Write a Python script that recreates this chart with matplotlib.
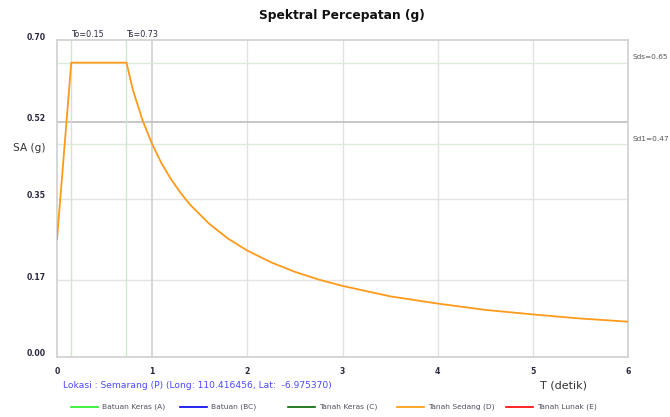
import matplotlib
matplotlib.use("Agg")
import matplotlib.pyplot as plt
from matplotlib.lines import Line2D
from matplotlib.transforms import ScaledTranslation

# ---- data ----
T_values = [0.0, 0.15, 0.73, 0.8, 0.9, 1.0, 1.1, 1.2, 1.3, 1.4, 1.6, 1.8, 2.0,
            2.25, 2.5, 2.75, 3.0, 3.5, 4.0, 4.5, 5.0, 5.5, 6.0]
SA_values = [0.26, 0.65, 0.65, 0.588, 0.522, 0.47, 0.427, 0.392, 0.362, 0.336,
             0.294, 0.261, 0.235, 0.209, 0.188, 0.171, 0.157, 0.134, 0.118,
             0.104, 0.094, 0.085, 0.078]
x_ticks = [0, 1, 2, 3, 4, 5, 6]
y_ticks = [0.00, 0.17, 0.35, 0.52, 0.70]
y_tick_labels = ["0.00", "0.17", "0.35", "0.52", "0.70"]
T0, Ts = 0.15, 0.73
Sds, Sd1 = 0.65, 0.47
legend_labels = ["Batuan Keras (A)", "Batuan (BC)", "Tanah Keras (C)",
                 "Tanah Sedang (D)", "Tanah Lunak (E)"]
legend_colors = ["#22ee22", "#0000ee", "#006400", "#ff9900", "#ff0000"]

W, H = 670, 417
fig = plt.figure(figsize=(W / 100, H / 100), dpi=100)
L, R, B, Tp = 57, 628, 357, 40
ax = fig.add_axes([L / W, 1 - B / H, (R - L) / W, (B - Tp) / H])

ax.set_xlim(0, 6)
ax.set_ylim(0, 0.70)

# grid lines
for y in [0.17, 0.35]:
    ax.axhline(y, color="#e4e4e4", lw=1, zorder=1)
for x in [2, 3, 4, 5]:
    ax.axvline(x, color="#e2e2e2", lw=1, zorder=1)
ax.axvline(1, color="#cfcfcf", lw=1.2, zorder=1)
ax.axhline(0.52, color="#bdbdbd", lw=1.2, zorder=1)
ax.axhline(Sds, color="#dcebdc", lw=1, zorder=1)
ax.axhline(Sd1, color="#dcebdc", lw=1, zorder=1)
ax.axvline(T0, color="#cfe6cf", lw=1, zorder=1)
ax.axvline(Ts, color="#cfe6cf", lw=1, zorder=1)

ax.plot(T_values, SA_values, color="#ff9a1a", lw=1.3, zorder=3)

for s in ax.spines.values():
    s.set_color("#d0d0d0")
    s.set_linewidth(1.2)

tick_color = "#2a2a40"
ax.set_xticks(x_ticks)
ax.set_xticklabels([str(v) for v in x_ticks], fontsize=5.6, color=tick_color,
                   fontweight="bold")
ax.set_yticks(y_ticks)
ax.set_yticklabels(y_tick_labels, fontsize=5.6, color=tick_color,
                   fontweight="bold")
ax.tick_params(length=0, pad=8)
ax.tick_params(axis="y", pad=8)
ax.tick_params(axis="x", pad=7)
off = ScaledTranslation(0, 4 / 100, fig.dpi_scale_trans)
for lab in ax.get_yticklabels():
    lab.set_transform(lab.get_transform() + off)

# annotations
ax.text(T0, 0.702, "To=0.15", fontsize=5.8, color=tick_color, ha="left",
        va="bottom", transform=ax.transData)
ax.text(Ts, 0.702, "Ts=0.73", fontsize=5.8, color=tick_color, ha="left",
        va="bottom", transform=ax.transData)
ax.text(6.05, Sds + 0.005, "Sds=0.65", fontsize=5.3, color="#555555",
        ha="left", va="bottom", clip_on=False)
ax.text(6.05, Sd1 + 0.005, "Sd1=0.47", fontsize=5.3, color="#555555",
        ha="left", va="bottom", clip_on=False)

fig.text(342 / W, 1 - 15 / H, "Spektral Percepatan (g)", fontsize=8.8,
         fontweight="bold", ha="center", va="center", color="#111111")
fig.text(13 / W, 1 - 148 / H, "SA (g)", fontsize=7.6, ha="left",
         va="center", color="#333333")
fig.text(540 / W, 1 - 386 / H, "T (detik)", fontsize=8, ha="left",
         va="center", color="#333333")
fig.text(63 / W, 1 - 386 / H,
         "Lokasi : Semarang (P) (Long: 110.416456, Lat:  -6.975370)",
         fontsize=6.6, ha="left", va="center", color="#4a4aff")

# legend (manual)
leg_x = [71, 180, 288, 397, 506]
ly = 1 - 407 / H
for x0, lab, col in zip(leg_x, legend_labels, legend_colors):
    fig.add_artist(Line2D([x0 / W, (x0 + 27) / W], [ly, ly], color=col,
                          lw=1.2, transform=fig.transFigure))
    fig.text((x0 + 31) / W, ly, lab, fontsize=5.4, color="#505060",
             ha="left", va="center")

fig.savefig("out.png", dpi=100)
